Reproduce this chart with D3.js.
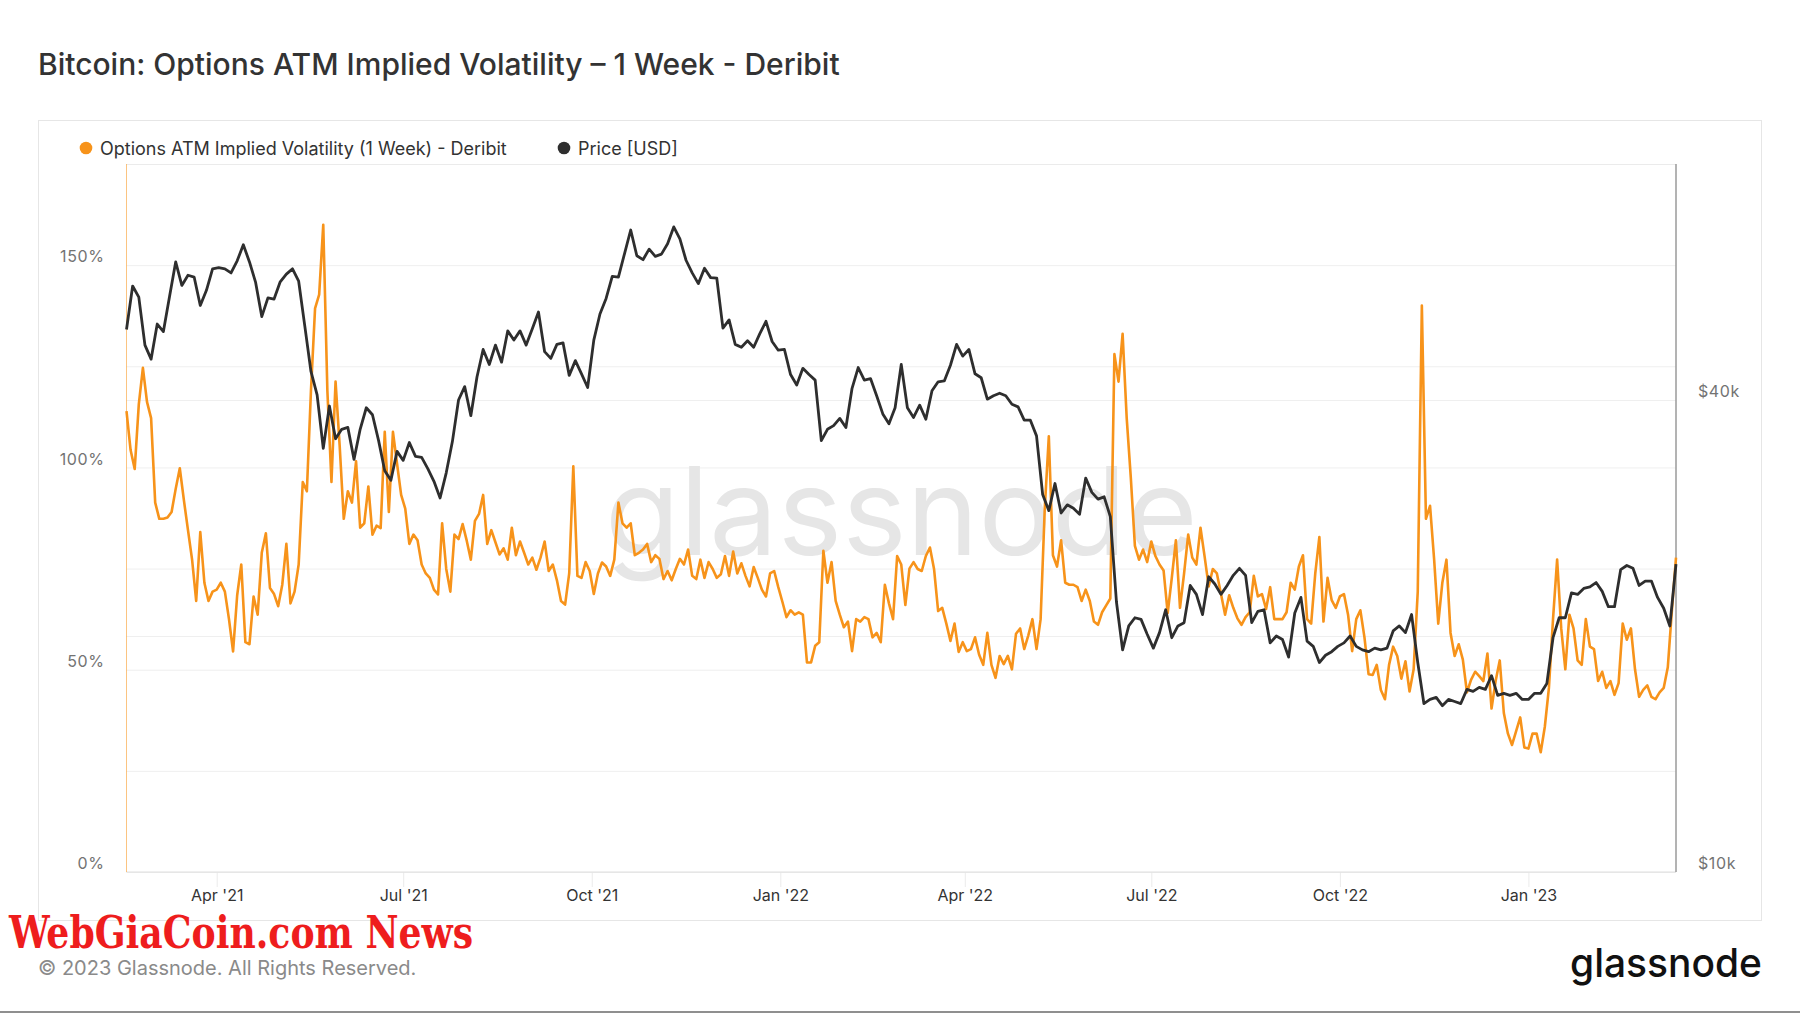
<!DOCTYPE html>
<html>
<head>
<meta charset="utf-8">
<script src="https://cdn.jsdelivr.net/npm/d3@7"></script>
<style>
  body { margin: 0; background: #fff; }
  svg { display: block; font-family: Inter, "Noto Sans", sans-serif; }
</style>
</head>
<body>
<div id="VizBox"></div>
<script>
// Implied volatility (%), one value every 2 days from the start date
var ivStart = "2021-02-16", ivStepDays = 2;
var ivValues = [
  113.9, 104.3, 99.6, 115.6, 124.6, 116.2, 112.2, 91.3, 87.3, 87.3,
  87.6, 89, 94.7, 99.8, 91.9, 84.5, 77.2, 67, 84, 71.5,
  67, 69.3, 69.8, 71.5, 69.3, 62.5, 54.5, 68.4, 76, 56.8,
  56.3, 68.1, 63.6, 78.9, 83.7, 70.2, 68.7, 65.7, 71, 81.1,
  66.4, 69.3, 76, 96.4, 94.1, 119, 139.3, 142.7, 160, 119,
  96.4, 121.2, 105.4, 87.3, 94.1, 91.3, 101.5, 85.1, 86.2, 95.3,
  83.4, 85.6, 85, 108.8, 89, 108.8, 100.9, 93.2, 89.8, 81.1,
  83.4, 82, 76, 73.8, 72.7, 69.8, 68.6, 86.2, 74.9, 69.3,
  83.4, 82.3, 86, 81.9, 77.2, 86.8, 88.5, 93.2, 81.1, 84.5,
  81.5, 78.5, 80, 77.2, 85.1, 78.3, 81.7, 78.9, 76, 77.7,
  74.7, 77.7, 81.7, 74.4, 76, 72.1, 67, 66.1, 73.8, 100.3,
  73.2, 72.7, 76.6, 74.4, 68.7, 73.8, 76.5, 75.5, 73.2, 77.2,
  91.3, 86.2, 85.1, 86.2, 78.3, 78.9, 79.7, 81.1, 76.6, 78.3,
  77.4, 72.4, 74.4, 72.1, 74.9, 77.4, 76, 79.7, 73.2, 72.4,
  77.2, 72.7, 76.6, 74.9, 72.7, 73.6, 78.1, 73.2, 79.2, 73.8,
  76.3, 73.2, 70.6, 75.4, 72.7, 69.8, 68.1, 73.8, 74.4, 70.4,
  66.8, 63, 64.7, 63.6, 64.2, 63.6, 51.8, 51.8, 55.9, 56.8,
  79.4, 71.5, 76.6, 67, 63.6, 60.5, 61.9, 54.6, 62.5, 61.9,
  63, 62.5, 58, 59.1, 56.8, 71, 66.4, 62.5, 78.1, 76,
  66, 75, 76.6, 74.9, 74.4, 78.1, 80.2, 74.9, 64.5, 65.3,
  61.4, 57.1, 61.4, 54.4, 56.8, 54.6, 55.1, 58, 53.7, 51.2,
  59.1, 51.2, 48, 53.4, 51.4, 53.4, 50.1, 58.9, 60.2, 55.1,
  58.5, 62.5, 55.1, 62.5, 89.6, 107.7, 78.3, 75.5, 82, 71.5,
  71, 71, 70.4, 67, 69.8, 67, 61.9, 61.1, 64.2, 65.9,
  67.6, 128, 121.2, 133, 112.2, 97.5, 80.6, 77.2, 79.7, 76.6,
  81.7, 78.1, 76, 74.5, 64, 72.7, 82, 65.3, 73.8, 83.4,
  77.7, 76, 85.1, 78, 70.6, 74.9, 73.8, 68.7, 63.6, 68.4,
  65.3, 62.7, 61.1, 63, 64.2, 73.2, 68.1, 68.7, 65, 70.4,
  62.5, 62.5, 62.5, 64.2, 71.5, 69.8, 75.5, 78.3, 62.5, 61.4,
  73.8, 82.8, 61.9, 72.7, 67.2, 65.3, 68.1, 68.7, 63.6, 54.6,
  62.5, 64.7, 58, 48.9, 48.7, 51.2, 45, 42.7, 51.2, 55.7,
  53.4, 47.8, 52.1, 44.6, 50.1, 69.3, 140, 87.3, 90.5, 77.2,
  61.4, 71.5, 77.2, 59.1, 53.4, 56.3, 52.5, 44.4, 47.5, 49.5,
  48.4, 47.2, 54, 40.4, 47.2, 52.3, 39.3, 34.2, 31.4, 34.8,
  38.2, 30.8, 30.5, 34.2, 34.2, 29.6, 35.9, 45.5, 62.5, 77.2,
  60.2, 50.1, 63.6, 60.2, 52.3, 51.2, 62.5, 55.7, 55.1, 47.2,
  49.5, 45.5, 47.2, 43.8, 46.7, 61.4, 57.4, 60.2, 50.1, 43.3,
  45, 46.1, 43.3, 42.7, 44.4, 45.5, 50.6, 64.7, 77.7
];

// BTC price (thousand USD), one value every 3 days from the start date
var priceStart = "2021-02-16", priceStepDays = 3;
var priceValues = [
  49.2, 55.9, 54.1, 47.0, 45.1, 50.0, 48.9, 54.2, 60.0, 56.0,
  57.7, 57.4, 52.8, 55.2, 58.8, 59.0, 58.8, 58.1, 60.2, 63.1,
  60.0, 56.5, 51.1, 54.0, 53.8, 56.6, 57.9, 58.8, 56.7, 49.7,
  43.5, 40.6, 34.7, 39.3, 35.7, 36.7, 36.9, 33.6, 36.7, 39.1,
  38.3, 35.5, 32.5, 31.6, 34.4, 33.5, 35.3, 33.9, 33.8, 32.7,
  31.5, 30.0, 32.3, 35.4, 40.0, 41.6, 38.2, 42.8, 46.4, 44.4,
  47.0, 44.7, 49.0, 47.7, 49.0, 47.0, 49.3, 51.8, 46.1, 45.2,
  47.1, 47.3, 43.0, 44.9, 43.2, 41.5, 47.7, 51.5, 53.9, 57.5,
  57.4, 61.5, 65.9, 61.1, 60.4, 62.3, 61.0, 61.4, 63.3, 66.5,
  64.2, 60.3, 58.1, 56.3, 58.9, 57.3, 57.2, 49.4, 50.6, 47.1,
  46.7, 47.6, 46.7, 48.6, 50.4, 47.5, 46.3, 46.4, 43.1, 41.8,
  43.9, 43.1, 42.4, 35.5, 36.7, 37.1, 37.9, 36.9, 41.4, 44.0,
  42.4, 42.6, 40.5, 38.4, 37.3, 39.1, 44.4, 39.1, 38.0, 39.4,
  37.8, 41.1, 42.2, 42.3, 44.3, 47.1, 45.5, 46.4, 43.2, 42.7,
  40.1, 40.5, 40.8, 40.5, 39.5, 39.2, 37.7, 37.7, 36.0, 30.3,
  28.9, 31.3, 28.7, 29.4, 29.1, 28.6, 31.8, 30.5, 29.9, 30.1,
  28.4, 22.1, 19.2, 20.6, 21.1, 21.0, 20.1, 19.3, 20.2, 21.6,
  19.9, 20.6, 20.8, 23.2, 22.6, 21.3, 23.8, 23.3, 22.6, 23.2,
  23.9, 24.4, 23.9, 20.8, 21.5, 21.6, 19.6, 20.0, 19.8, 18.8,
  21.4, 22.4, 19.7, 19.4, 18.5, 18.9, 19.1, 19.4, 19.6, 20.0,
  19.4, 19.2, 19.1, 19.3, 19.2, 19.3, 20.3, 20.6, 20.2, 21.3,
  18.5, 16.4, 16.6, 16.7, 16.3, 16.6, 16.5, 16.4, 17.1, 17.0,
  17.2, 17.1, 17.8, 16.8, 16.9, 16.8, 16.9, 16.6, 16.6, 16.9,
  16.9, 17.4, 19.9, 21.1, 21.1, 22.7, 22.6, 23.0, 23.1, 23.4,
  22.8, 21.8, 21.8, 24.3, 24.6, 24.4, 23.2, 23.5, 23.5, 22.4,
  21.7, 20.6, 24.7
];

var xTickDates = ["2021-04-01", "2021-07-01", "2021-10-01", "2022-01-01",
                  "2022-04-01", "2022-07-01", "2022-10-01", "2023-01-01"];
var xTickLabels = ["Apr '21", "Jul '21", "Oct '21", "Jan '22",
                   "Apr '22", "Jul '22", "Oct '22", "Jan '23"];
var leftGridValues = [0, 25, 50, 75, 100, 125, 150, 175];
var leftTickValues = [0, 50, 100, 150];
var rightGridValues = [20, 40];
var rightTickValues = [10, 40];
var rightTickLabels = ["$10k", "$40k"];
var legendLabels = ["Options ATM Implied Volatility (1 Week) - Deribit", "Price [USD]"];
var seriesColors = ["#f7931a", "#2e2e2e"];

// page and plot box
var W = 1800, H = 1013;
var margin = {top: 164, left: 126.5};
var width = 1676 - 126.5,
    height = 872 - 164;

var parseDay = d3.utcParse("%Y-%m-%d");
var ivData = ivValues.map(function(v, i) {
  return {date: d3.utcDay.offset(parseDay(ivStart), i * ivStepDays), value: v};
});
var priceData = priceValues.map(function(v, i) {
  return {date: d3.utcDay.offset(parseDay(priceStart), i * priceStepDays), value: v};
});

var svg = d3.select("#VizBox")
  .append("svg")
    .attr("width", W)
    .attr("height", H);

svg.append("rect").attr("width", W).attr("height", H).attr("fill", "#fff");

// title
svg.append("text")
  .attr("x", 38).attr("y", 75)
  .attr("font-size", 30).attr("font-weight", 500).attr("fill", "#333")
  .text("Bitcoin: Options ATM Implied Volatility \u2013 1 Week - Deribit");

// panel frame
svg.append("rect")
  .attr("x", 38.5).attr("y", 120.5).attr("width", 1723).attr("height", 800)
  .attr("fill", "none").attr("stroke", "#e6e6e6");

// legend
var legend = svg.append("g");
var legendX = [86, 564];
legendLabels.forEach(function(label, i) {
  legend.append("circle")
    .attr("cx", legendX[i]).attr("cy", 148).attr("r", 6.3)
    .attr("fill", seriesColors[i]);
  legend.append("text")
    .attr("x", legendX[i] + 14).attr("y", 154.5)
    .attr("font-size", 18).attr("fill", "#333")
    .text(label);
});

var g = svg.append("g")
  .attr("transform", "translate(" + margin.left + "," + margin.top + ")");

var x = d3.scaleUtc()
  .domain([ivData[0].date, ivData[ivData.length - 1].date])
  .range([0, width]);
var yL = d3.scaleLinear().domain([0, 175]).range([height, 0]);
var yR = d3.scaleLog().domain([10, 80]).range([height, 0]);

// grid lines
g.append("g")
  .call(d3.axisLeft(yL).tickValues(leftGridValues).tickSize(-width).tickFormat(""))
  .call(function(s) { s.select(".domain").remove(); })
  .selectAll("line").attr("stroke", "#efefef");
g.append("g")
  .attr("transform", "translate(" + width + ",0)")
  .call(d3.axisRight(yR).tickValues(rightGridValues).tickSize(-width).tickFormat(""))
  .call(function(s) { s.select(".domain").remove(); })
  .selectAll("line").attr("stroke", "#efefef");

// watermark
g.append("text")
  .attr("x", width / 2).attr("y", 391)
  .attr("text-anchor", "middle")
  .attr("font-size", 122).attr("fill", "#e6e6e6")
  .text("glassnode");

// x axis
var xAxis = g.append("g")
  .attr("transform", "translate(0," + height + ")")
  .call(d3.axisBottom(x)
    .tickValues(xTickDates.map(parseDay))
    .tickSize(15).tickPadding(3)
    .tickFormat(function(d, i) { return xTickLabels[i]; }));
xAxis.select(".domain").remove();
xAxis.selectAll("line").attr("stroke", "#ebebeb");
xAxis.selectAll("text").attr("font-size", 16).attr("fill", "#333").attr("font-family", "Inter, sans-serif");

// left axis labels
var yAxisL = g.append("g")
  .call(d3.axisLeft(yL).tickValues(leftTickValues).tickSize(0).tickPadding(22)
    .tickFormat(function(d) { return d + "%"; }));
yAxisL.select(".domain").remove();
yAxisL.selectAll("text").attr("dy", "-0.2em").attr("font-size", 16)
  .attr("letter-spacing", 0.6)
  .attr("fill", "#737373").attr("font-family", "Inter, sans-serif");

// right axis labels
var yAxisR = g.append("g")
  .attr("transform", "translate(" + width + ",0)")
  .call(d3.axisRight(yR).tickValues(rightTickValues).tickSize(0).tickPadding(22)
    .tickFormat(function(d, i) { return rightTickLabels[i]; }));
yAxisR.select(".domain").remove();
yAxisR.selectAll("text").attr("dy", "-0.2em").attr("font-size", 16)
  .attr("letter-spacing", 0.6)
  .attr("fill", "#737373").attr("font-family", "Inter, sans-serif");

// plot frame
g.append("line").attr("x1", 0).attr("x2", width).attr("y1", 0.5).attr("y2", 0.5).attr("stroke", "#ebebeb");
g.append("line").attr("x1", 0).attr("x2", width).attr("y1", height).attr("y2", height).attr("stroke", "#dedede");
g.append("line").attr("x1", 0).attr("x2", 0).attr("y1", 0).attr("y2", height)
  .attr("stroke", "#f7931a").attr("stroke-opacity", 0.55);
g.append("line").attr("x1", width).attr("x2", width).attr("y1", 0).attr("y2", height)
  .attr("stroke", "#9a9a9a").attr("stroke-width", 1.5);

// series
g.append("path")
  .datum(ivData)
  .attr("fill", "none")
  .attr("stroke", seriesColors[0])
  .attr("stroke-width", 2.6)
  .attr("stroke-linejoin", "round")
  .attr("d", d3.line().x(function(d) { return x(d.date); }).y(function(d) { return yL(d.value); }));

g.append("path")
  .datum(priceData)
  .attr("fill", "none")
  .attr("stroke", seriesColors[1])
  .attr("stroke-width", 2.8)
  .attr("stroke-linejoin", "round")
  .attr("d", d3.line().x(function(d) { return x(d.date); }).y(function(d) { return yR(d.value); }));

// footer
svg.append("text")
  .attr("x", 38).attr("y", 975)
  .attr("font-size", 20).attr("fill", "#8a8a8a")
  .text("\u00a9 2023 Glassnode. All Rights Reserved.");

svg.append("text")
  .attr("x", 1762).attr("y", 977)
  .attr("text-anchor", "end")
  .attr("font-size", 40).attr("font-weight", 500).attr("fill", "#111")
  .attr("textLength", 192).attr("lengthAdjust", "spacingAndGlyphs")
  .text("glassnode");

svg.append("text")
  .attr("x", 9).attr("y", 948)
  .attr("font-family", "'DejaVu Serif Condensed', 'DejaVu Serif', serif")
  .attr("font-weight", "bold").attr("font-size", 45).attr("fill", "#ee1d1d")
  .attr("textLength", 464).attr("lengthAdjust", "spacingAndGlyphs")
  .text("WebGiaCoin.com News");

svg.append("rect").attr("x", 0).attr("y", 1011).attr("width", W).attr("height", 2).attr("fill", "#8f8f8f");
</script>
</body>
</html>
